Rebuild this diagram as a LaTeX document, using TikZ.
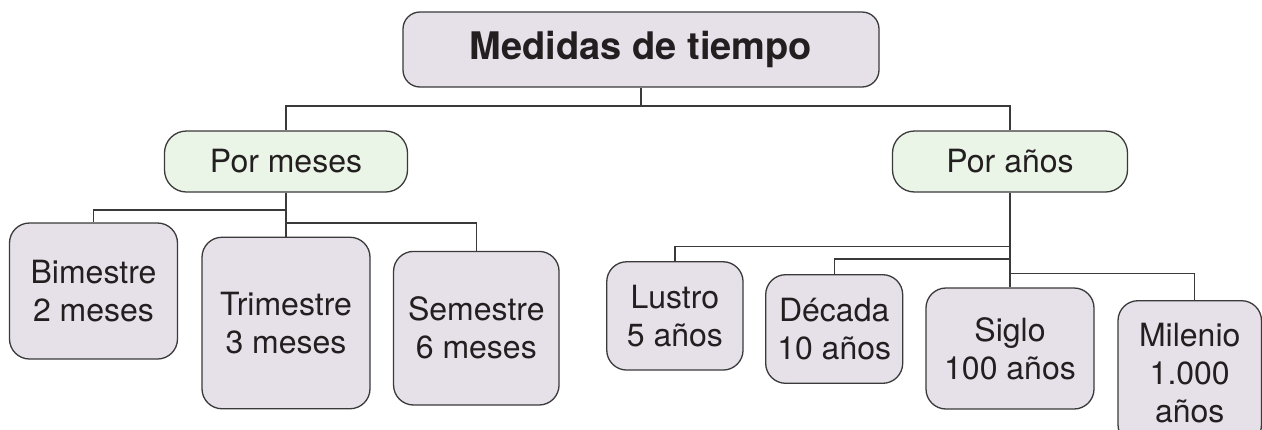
\documentclass[tikz,border=0pt]{standalone}
\usepackage{fontspec}
\setmainfont{TeX Gyre Heros}
\definecolor{lav}{HTML}{E6E0E9}
\definecolor{mint}{HTML}{EAF4E7}
\definecolor{ink}{HTML}{231F20}
\definecolor{edge}{HTML}{3A3A3A}
\begin{document}
\begin{tikzpicture}[x=1pt,y=-1pt,
  box/.style={draw=edge, line width=1.3pt, text=ink, inner sep=0pt, align=center,
              font=\fontsize{32}{38}\selectfont},
  topbox/.style={box, fill=lav, rounded corners=17pt, font=\fontsize{38}{44}\selectfont\bfseries},
  midbox/.style={box, fill=mint, rounded corners=22pt},
  leaf/.style={box, fill=lav, rounded corners=20pt},
  link/.style={draw=edge, line width=1.3pt}]
\useasboundingbox (0,0) rectangle (1262,429);
\fill[white] (0,0) rectangle (1262,429);
% nodes
\node[topbox, minimum width=476pt, minimum height=75pt] (top) at (641,49.5) {Medidas de tiempo};
\node[midbox, minimum width=243pt, minimum height=61pt] (pm) at (286,161.5) {Por meses};
\node[midbox, minimum width=235pt, minimum height=61pt] (pa) at (1010,161.5) {Por años};
\node[leaf, minimum width=168pt, minimum height=136pt] (bim) at (93.5,291) {Bimestre\\2 meses};
\node[leaf, minimum width=168pt, minimum height=171.5pt] (tri) at (286,323) {Trimestre\\3 meses};
\node[leaf, minimum width=165.5pt, minimum height=153.6pt] (sem) at (476.3,328.2) {Semestre\\6 meses};
\node[leaf, minimum width=136.3pt, minimum height=108.3pt] (lus) at (674.9,315.9) {Lustro\\5 años};
\node[leaf, minimum width=137pt, minimum height=108.6pt] (dec) at (834.2,329) {Década\\10 años};
\node[leaf, minimum width=168pt, minimum height=121pt] (sig) at (1010,348.5) {Siglo\\100 años};
\node[leaf, minimum width=143.5pt, minimum height=144pt] (mil) at (1189.75,372.7) {Milenio\\1.000\\años};
% connectors
\coordinate (j0) at (641,106);
\draw[link] (top.south) -- (j0);
\draw[link] (pm.north) |- (j0) -| (pa.north);
\draw[link] (pm.south) -- (tri.north);
\coordinate (jl1) at (286,210);
\coordinate (jl2) at (286,223);
\draw[link] (bim.north) |- (jl1);
\draw[link] (jl2) -| (sem.north);
\draw[link] (pa.south) -- (sig.north);
\coordinate (jr1) at (1010,246.5);
\coordinate (jr2) at (1010,259);
\coordinate (jr3) at (1010,273.5);
\draw[link] (lus.north) |- (jr1);
\draw[link] (dec.north) |- (jr2);
\draw[link] (jr3) -| ([xshift=5pt]mil.north);
\end{tikzpicture}
\end{document}
